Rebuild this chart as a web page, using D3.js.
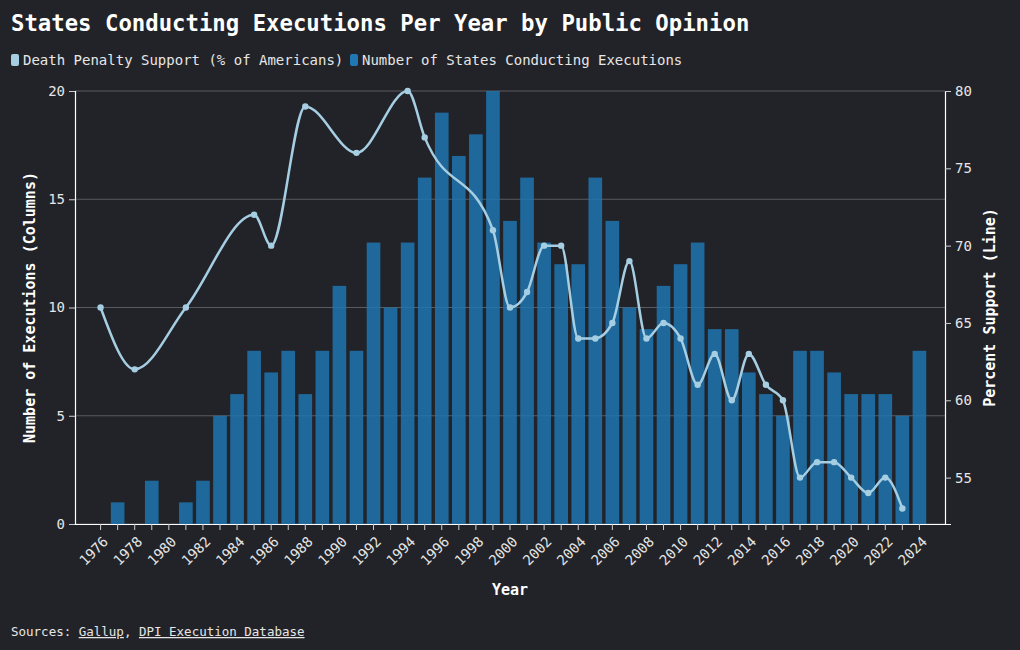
<!DOCTYPE html>
<html>
<head>
<meta charset="utf-8">
<script src="https://cdn.jsdelivr.net/npm/d3@7"></script>
<style>
  html, body { margin: 0; padding: 0; background: #222328; }
  svg { display: block; }
  text { font-family: "DejaVu Sans Mono", monospace; }
</style>
</head>
<body>
<svg id="chart" width="1020" height="650"></svg>
<script>
// ---- Data ----
const years = d3.range(1976, 2025);
const statesExecuting = [0,1,0,2,0,1,2,5,6,8,7,8,6,8,11,8,13,10,13,16,19,17,18,20,14,16,13,12,12,16,14,10,9,11,12,13,9,9,7,6,5,8,8,7,6,6,6,5,8];
const supportYears = [1976,1978,1981,1985,1986,1988,1991,1994,1995,1999,2000,2001,2002,2003,2004,2005,2006,2007,2008,2009,2010,2011,2012,2013,2014,2015,2016,2017,2018,2019,2020,2021,2022,2023];
const supportValues = [66,62,66,72,70,79,76,80,77,71,66,67,70,70,64,64,65,69,64,65,64,61,63,60,63,61,60,55,56,56,55,54,55,53];
const leftTicks = [0,5,10,15,20];
const rightTicks = [55,60,65,70,75,80];
const xTickLabels = years.filter(y => (y - 1976) % 2 === 0);

const W = 1020, H = 650;
const L = 75, R = 945, T = 91, B = 524;
const bg = "#222328", fg = "#e6e6e6";
const barColor = "#1f78b4", lineColor = "#a6cee3";

const svg = d3.select("#chart");
svg.append("rect").attr("width", W).attr("height", H).attr("fill", bg);

const x = d3.scaleBand().domain(years).range([L, R]).paddingInner(0.2).paddingOuter(1.1);
const yL = d3.scaleLinear().domain([0, 20]).range([B, T]);
const yR = d3.scaleLinear().domain([52, 80]).range([B, T]);

// grid
svg.append("g").selectAll("line").data(leftTicks).join("line")
  .attr("x1", L).attr("x2", R)
  .attr("y1", d => yL(d)).attr("y2", d => yL(d))
  .attr("stroke", "#5a5b60").attr("stroke-width", 1);

// bars
svg.append("g").selectAll("rect").data(years.map((y, i) => ({y, v: statesExecuting[i]})).filter(d => d.v > 0))
  .join("rect")
  .attr("x", d => x(d.y)).attr("width", x.bandwidth())
  .attr("y", d => yL(d.v)).attr("height", d => B - yL(d.v))
  .attr("fill", barColor).attr("fill-opacity", 0.82);

// line
const pts = supportYears.map((y, i) => ({y, v: supportValues[i]}));
const line = d3.line().x(d => x(d.y) + x.bandwidth() / 2).y(d => yR(d.v)).curve(d3.curveMonotoneX);
svg.append("path").datum(pts).attr("d", line)
  .attr("fill", "none").attr("stroke", lineColor).attr("stroke-width", 2.5);
svg.append("g").selectAll("circle").data(pts).join("circle")
  .attr("cx", d => x(d.y) + x.bandwidth() / 2).attr("cy", d => yR(d.v))
  .attr("r", 3.2).attr("fill", lineColor);

// axes
function styleAxis(g) {
  g.selectAll(".domain").attr("stroke", "#ffffff").attr("stroke-width", 1.2);
  g.selectAll(".tick line").attr("stroke", "#cfcfcf");
  g.selectAll(".tick text").attr("fill", fg).style("font-family", "'DejaVu Sans Mono', monospace");
}
const gxL = svg.append("g").attr("transform", `translate(${L},0)`)
  .call(d3.axisLeft(yL).tickValues(leftTicks).tickSize(6).tickPadding(4))
  .call(styleAxis);
gxL.selectAll(".tick text").style("font-size", "14px");

const gxR = svg.append("g").attr("transform", `translate(${R},0)`)
  .call(d3.axisRight(yR).tickValues(rightTicks).tickSize(6).tickPadding(4))
  .call(styleAxis);
gxR.selectAll(".tick text").style("font-size", "14px");

const gX = svg.append("g").attr("transform", `translate(0,${B})`)
  .call(d3.axisBottom(x).tickSize(6).tickSizeOuter(0).tickFormat(d => xTickLabels.includes(d) ? d : ""))
  .call(styleAxis);
gX.selectAll(".tick text")
  .style("font-size", "14px")
  .attr("text-anchor", "end")
  .attr("x", 0).attr("y", 0).attr("dy", "0.35em")
  .attr("transform", "translate(5,15) rotate(-45)");

// axis titles
svg.append("text").attr("transform", `translate(35,${(T + B) / 2}) rotate(-90)`)
  .attr("text-anchor", "middle").attr("fill", "#ffffff")
  .style("font-size", "15px").style("font-weight", "bold")
  .text("Number of Executions (Columns)");
svg.append("text").attr("transform", `translate(995,${(T + B) / 2}) rotate(-90)`)
  .attr("text-anchor", "middle").attr("fill", "#ffffff")
  .style("font-size", "15px").style("font-weight", "bold")
  .text("Percent Support (Line)");
svg.append("text").attr("x", (L + R) / 2).attr("y", 595)
  .attr("text-anchor", "middle").attr("fill", "#ffffff")
  .style("font-size", "15px").style("font-weight", "bold")
  .text("Year");

// title
svg.append("text").attr("x", 11).attr("y", 31).attr("fill", "#ffffff")
  .style("font-size", "22.3px").style("font-weight", "bold")
  .text("States Conducting Executions Per Year by Public Opinion");

// legend
const legend = [
  {label: "Death Penalty Support (% of Americans)", color: lineColor, x: 11},
  {label: "Number of States Conducting Executions", color: barColor, x: 350}
];
const lg = svg.append("g").selectAll("g").data(legend).join("g")
  .attr("transform", d => `translate(${d.x},0)`);
lg.append("rect").attr("x", 0).attr("y", 54).attr("width", 8).attr("height", 12).attr("rx", 2)
  .attr("fill", d => d.color);
lg.append("text").attr("x", 12).attr("y", 65).attr("fill", fg)
  .style("font-size", "14px").text(d => d.label);

// sources
const src = svg.append("text").attr("x", 11).attr("y", 636).attr("fill", fg).style("font-size", "12.5px");
src.append("tspan").text("Sources: ");
src.append("tspan").attr("text-decoration", "underline").text("Gallup");
src.append("tspan").text(", ");
src.append("tspan").attr("text-decoration", "underline").text("DPI Execution Database");
</script>
</body>
</html>
